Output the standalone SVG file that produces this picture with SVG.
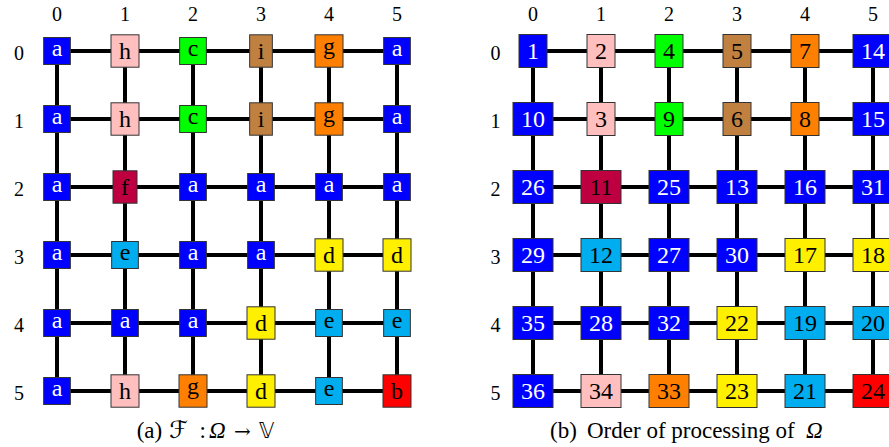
<svg xmlns="http://www.w3.org/2000/svg" width="889" height="447" viewBox="0 0 889 447">
<style>
.edge{stroke:#000;stroke-width:4;fill:none}
.box{stroke:#333;stroke-width:1}
.t{font-family:"Liberation Serif","Times New Roman",serif;font-size:24px;text-anchor:middle;fill:#000}
.w{fill:#fff}
.lbl{font-family:"Liberation Serif","Times New Roman",serif;font-size:20px;text-anchor:middle;fill:#000}
.cap{font-family:"Liberation Serif","Times New Roman","DejaVu Serif","DejaVu Sans",serif;font-size:23px;fill:#000}
.blue{fill:#0000FF}.pink{fill:#FFBFBF}.green{fill:#00FF00}.brown{fill:#BF8040}.orange{fill:#FF8000}.purple{fill:#BF0040}.yellow{fill:#FFF000}.cyan{fill:#00AEEF}.red{fill:#FF0000}
</style>
<rect width="889" height="447" fill="#fff"/>
<g id="connectors">
<path class="edge" d="M57 51H397M57 119H397M57 187H397M57 255H397M57 323H397M57 391H397M57 51V391M125 51V391M193 51V391M261 51V391M329 51V391M397 51V391"/>
<path class="edge" d="M533 51H873M533 119H873M533 187H873M533 255H873M533 323H873M533 391H873M533 51V391M601 51V391M669 51V391M737 51V391M805 51V391M873 51V391"/>
</g>
<g id="labels">
<text class="lbl" x="57" y="21">0</text><text class="lbl" x="125" y="21">1</text><text class="lbl" x="193" y="21">2</text><text class="lbl" x="261" y="21">3</text><text class="lbl" x="329" y="21">4</text><text class="lbl" x="397" y="21">5</text>
<text class="lbl" x="19" y="60">0</text><text class="lbl" x="19" y="128">1</text><text class="lbl" x="19" y="196">2</text><text class="lbl" x="19" y="264">3</text><text class="lbl" x="19" y="332">4</text><text class="lbl" x="19" y="400">5</text>
<text class="lbl" x="533" y="21">0</text><text class="lbl" x="601" y="21">1</text><text class="lbl" x="669" y="21">2</text><text class="lbl" x="737" y="21">3</text><text class="lbl" x="805" y="21">4</text><text class="lbl" x="873" y="21">5</text>
<text class="lbl" x="495.5" y="60">0</text><text class="lbl" x="495.5" y="128">1</text><text class="lbl" x="495.5" y="196">2</text><text class="lbl" x="495.5" y="264">3</text><text class="lbl" x="495.5" y="332">4</text><text class="lbl" x="495.5" y="400">5</text>
</g>
<g id="gridA">
<g id="a00" transform="translate(57,51)"><rect class="box blue" x="-13.35" y="-13.5" width="26.7" height="27"/><text class="t w" y="5.3">a</text></g>
<g id="a01" transform="translate(125,51)"><rect class="box pink" x="-14" y="-16.2" width="28" height="32.4"/><text class="t" y="8.4">h</text></g>
<g id="a02" transform="translate(193,51)"><rect class="box green" x="-13.35" y="-13.5" width="26.7" height="27"/><text class="t" y="5.3">c</text></g>
<g id="a03" transform="translate(261,51)"><rect class="box brown" x="-11.35" y="-16.2" width="22.7" height="32.4"/><text class="t" y="8.4">i</text></g>
<g id="a04" transform="translate(329,51)"><rect class="box orange" x="-14" y="-16.2" width="28" height="32.4"/><text class="t" y="2.8">g</text></g>
<g id="a05" transform="translate(397,51)"><rect class="box blue" x="-13.35" y="-13.5" width="26.7" height="27"/><text class="t w" y="5.3">a</text></g>

<g id="a10" transform="translate(57,119)"><rect class="box blue" x="-13.35" y="-13.5" width="26.7" height="27"/><text class="t w" y="5.3">a</text></g>
<g id="a11" transform="translate(125,119)"><rect class="box pink" x="-14" y="-16.2" width="28" height="32.4"/><text class="t" y="8.4">h</text></g>
<g id="a12" transform="translate(193,119)"><rect class="box green" x="-13.35" y="-13.5" width="26.7" height="27"/><text class="t" y="5.3">c</text></g>
<g id="a13" transform="translate(261,119)"><rect class="box brown" x="-11.35" y="-16.2" width="22.7" height="32.4"/><text class="t" y="8.4">i</text></g>
<g id="a14" transform="translate(329,119)"><rect class="box orange" x="-14" y="-16.2" width="28" height="32.4"/><text class="t" y="2.8">g</text></g>
<g id="a15" transform="translate(397,119)"><rect class="box blue" x="-13.35" y="-13.5" width="26.7" height="27"/><text class="t w" y="5.3">a</text></g>

<g id="a20" transform="translate(57,187)"><rect class="box blue" x="-13.35" y="-13.5" width="26.7" height="27"/><text class="t w" y="5.3">a</text></g>
<g id="a21" transform="translate(125,187)"><rect class="box purple" x="-12" y="-16.2" width="24" height="32.4"/><text class="t" y="8.4">f</text></g>
<g id="a22" transform="translate(193,187)"><rect class="box blue" x="-13.35" y="-13.5" width="26.7" height="27"/><text class="t w" y="5.3">a</text></g>
<g id="a23" transform="translate(261,187)"><rect class="box blue" x="-13.35" y="-13.5" width="26.7" height="27"/><text class="t w" y="5.3">a</text></g>
<g id="a24" transform="translate(329,187)"><rect class="box blue" x="-13.35" y="-13.5" width="26.7" height="27"/><text class="t w" y="5.3">a</text></g>
<g id="a25" transform="translate(397,187)"><rect class="box blue" x="-13.35" y="-13.5" width="26.7" height="27"/><text class="t w" y="5.3">a</text></g>

<g id="a30" transform="translate(57,255)"><rect class="box blue" x="-13.35" y="-13.5" width="26.7" height="27"/><text class="t w" y="5.3">a</text></g>
<g id="a31" transform="translate(125,255)"><rect class="box cyan" x="-13.35" y="-13.5" width="26.7" height="27"/><text class="t" y="5.3">e</text></g>
<g id="a32" transform="translate(193,255)"><rect class="box blue" x="-13.35" y="-13.5" width="26.7" height="27"/><text class="t w" y="5.3">a</text></g>
<g id="a33" transform="translate(261,255)"><rect class="box blue" x="-13.35" y="-13.5" width="26.7" height="27"/><text class="t w" y="5.3">a</text></g>
<g id="a34" transform="translate(329,255)"><rect class="box yellow" x="-14" y="-16.2" width="28" height="32.4"/><text class="t" y="8.4">d</text></g>
<g id="a35" transform="translate(397,255)"><rect class="box yellow" x="-14" y="-16.2" width="28" height="32.4"/><text class="t" y="8.4">d</text></g>

<g id="a40" transform="translate(57,323)"><rect class="box blue" x="-13.35" y="-13.5" width="26.7" height="27"/><text class="t w" y="5.3">a</text></g>
<g id="a41" transform="translate(125,323)"><rect class="box blue" x="-13.35" y="-13.5" width="26.7" height="27"/><text class="t w" y="5.3">a</text></g>
<g id="a42" transform="translate(193,323)"><rect class="box blue" x="-13.35" y="-13.5" width="26.7" height="27"/><text class="t w" y="5.3">a</text></g>
<g id="a43" transform="translate(261,323)"><rect class="box yellow" x="-14" y="-16.2" width="28" height="32.4"/><text class="t" y="8.4">d</text></g>
<g id="a44" transform="translate(329,323)"><rect class="box cyan" x="-13.35" y="-13.5" width="26.7" height="27"/><text class="t" y="5.3">e</text></g>
<g id="a45" transform="translate(397,323)"><rect class="box cyan" x="-13.35" y="-13.5" width="26.7" height="27"/><text class="t" y="5.3">e</text></g>

<g id="a50" transform="translate(57,391)"><rect class="box blue" x="-13.35" y="-13.5" width="26.7" height="27"/><text class="t w" y="5.3">a</text></g>
<g id="a51" transform="translate(125,391)"><rect class="box pink" x="-14" y="-16.2" width="28" height="32.4"/><text class="t" y="8.4">h</text></g>
<g id="a52" transform="translate(193,391)"><rect class="box orange" x="-14" y="-16.2" width="28" height="32.4"/><text class="t" y="2.8">g</text></g>
<g id="a53" transform="translate(261,391)"><rect class="box yellow" x="-14" y="-16.2" width="28" height="32.4"/><text class="t" y="8.4">d</text></g>
<g id="a54" transform="translate(329,391)"><rect class="box cyan" x="-13.35" y="-13.5" width="26.7" height="27"/><text class="t" y="5.3">e</text></g>
<g id="a55" transform="translate(397,391)"><rect class="box red" x="-14" y="-16.2" width="28" height="32.4"/><text class="t" y="8.4">b</text></g>
</g>
<g id="gridB">
<g id="b00" transform="translate(533,51)"><rect class="box blue" x="-14" y="-16.5" width="28" height="33"/><text class="t w" y="8.3">1</text></g>
<g id="b01" transform="translate(601,51)"><rect class="box pink" x="-14" y="-16.5" width="28" height="33"/><text class="t" y="8.3">2</text></g>
<g id="b02" transform="translate(669,51)"><rect class="box green" x="-14" y="-16.5" width="28" height="33"/><text class="t" y="8.3">4</text></g>
<g id="b03" transform="translate(737,51)"><rect class="box brown" x="-14" y="-16.5" width="28" height="33"/><text class="t" y="8.3">5</text></g>
<g id="b04" transform="translate(805,51)"><rect class="box orange" x="-14" y="-16.5" width="28" height="33"/><text class="t" y="8.3">7</text></g>
<g id="b05" transform="translate(873,51)"><rect class="box blue" x="-20" y="-16.5" width="40" height="33"/><text class="t w" y="8.3">14</text></g>

<g id="b10" transform="translate(533,119)"><rect class="box blue" x="-20" y="-16.5" width="40" height="33"/><text class="t w" y="8.3">10</text></g>
<g id="b11" transform="translate(601,119)"><rect class="box pink" x="-14" y="-16.5" width="28" height="33"/><text class="t" y="8.3">3</text></g>
<g id="b12" transform="translate(669,119)"><rect class="box green" x="-14" y="-16.5" width="28" height="33"/><text class="t" y="8.3">9</text></g>
<g id="b13" transform="translate(737,119)"><rect class="box brown" x="-14" y="-16.5" width="28" height="33"/><text class="t" y="8.3">6</text></g>
<g id="b14" transform="translate(805,119)"><rect class="box orange" x="-14" y="-16.5" width="28" height="33"/><text class="t" y="8.3">8</text></g>
<g id="b15" transform="translate(873,119)"><rect class="box blue" x="-20" y="-16.5" width="40" height="33"/><text class="t w" y="8.3">15</text></g>

<g id="b20" transform="translate(533,187)"><rect class="box blue" x="-20" y="-16.5" width="40" height="33"/><text class="t w" y="8.3">26</text></g>
<g id="b21" transform="translate(601,187)"><rect class="box purple" x="-20" y="-16.5" width="40" height="33"/><text class="t" y="8.3">11</text></g>
<g id="b22" transform="translate(669,187)"><rect class="box blue" x="-20" y="-16.5" width="40" height="33"/><text class="t w" y="8.3">25</text></g>
<g id="b23" transform="translate(737,187)"><rect class="box blue" x="-20" y="-16.5" width="40" height="33"/><text class="t w" y="8.3">13</text></g>
<g id="b24" transform="translate(805,187)"><rect class="box blue" x="-20" y="-16.5" width="40" height="33"/><text class="t w" y="8.3">16</text></g>
<g id="b25" transform="translate(873,187)"><rect class="box blue" x="-20" y="-16.5" width="40" height="33"/><text class="t w" y="8.3">31</text></g>

<g id="b30" transform="translate(533,255)"><rect class="box blue" x="-20" y="-16.5" width="40" height="33"/><text class="t w" y="8.3">29</text></g>
<g id="b31" transform="translate(601,255)"><rect class="box cyan" x="-20" y="-16.5" width="40" height="33"/><text class="t" y="8.3">12</text></g>
<g id="b32" transform="translate(669,255)"><rect class="box blue" x="-20" y="-16.5" width="40" height="33"/><text class="t w" y="8.3">27</text></g>
<g id="b33" transform="translate(737,255)"><rect class="box blue" x="-20" y="-16.5" width="40" height="33"/><text class="t w" y="8.3">30</text></g>
<g id="b34" transform="translate(805,255)"><rect class="box yellow" x="-20" y="-16.5" width="40" height="33"/><text class="t" y="8.3">17</text></g>
<g id="b35" transform="translate(873,255)"><rect class="box yellow" x="-20" y="-16.5" width="40" height="33"/><text class="t" y="8.3">18</text></g>

<g id="b40" transform="translate(533,323)"><rect class="box blue" x="-20" y="-16.5" width="40" height="33"/><text class="t w" y="8.3">35</text></g>
<g id="b41" transform="translate(601,323)"><rect class="box blue" x="-20" y="-16.5" width="40" height="33"/><text class="t w" y="8.3">28</text></g>
<g id="b42" transform="translate(669,323)"><rect class="box blue" x="-20" y="-16.5" width="40" height="33"/><text class="t w" y="8.3">32</text></g>
<g id="b43" transform="translate(737,323)"><rect class="box yellow" x="-20" y="-16.5" width="40" height="33"/><text class="t" y="8.3">22</text></g>
<g id="b44" transform="translate(805,323)"><rect class="box cyan" x="-20" y="-16.5" width="40" height="33"/><text class="t" y="8.3">19</text></g>
<g id="b45" transform="translate(873,323)"><rect class="box cyan" x="-20" y="-16.5" width="40" height="33"/><text class="t" y="8.3">20</text></g>

<g id="b50" transform="translate(533,391)"><rect class="box blue" x="-20" y="-16.5" width="40" height="33"/><text class="t w" y="8.3">36</text></g>
<g id="b51" transform="translate(601,391)"><rect class="box pink" x="-20" y="-16.5" width="40" height="33"/><text class="t" y="8.3">34</text></g>
<g id="b52" transform="translate(669,391)"><rect class="box orange" x="-20" y="-16.5" width="40" height="33"/><text class="t" y="8.3">33</text></g>
<g id="b53" transform="translate(737,391)"><rect class="box yellow" x="-20" y="-16.5" width="40" height="33"/><text class="t" y="8.3">23</text></g>
<g id="b54" transform="translate(805,391)"><rect class="box cyan" x="-20" y="-16.5" width="40" height="33"/><text class="t" y="8.3">21</text></g>
<g id="b55" transform="translate(873,391)"><rect class="box red" x="-20" y="-16.5" width="40" height="33"/><text class="t" y="8.3">24</text></g>
</g>
<g id="captions">
<text class="cap" y="437.5"><tspan x="136.7">(a)</tspan><tspan x="169" font-family="'DejaVu Serif','DejaVu Sans',serif" font-size="24">ℱ</tspan><tspan x="199.5">:</tspan><tspan x="209" font-style="italic">Ω</tspan><tspan x="234" font-family="'DejaVu Serif','DejaVu Sans',serif" font-size="20">→</tspan><tspan x="259" font-family="'DejaVu Sans','DejaVu Serif',sans-serif" font-size="21">𝕍</tspan></text>
<text class="cap" y="437.5"><tspan x="550">(b)</tspan><tspan x="587">Order of processing of </tspan><tspan x="806" font-style="italic">Ω</tspan></text>
</g>
</svg>
